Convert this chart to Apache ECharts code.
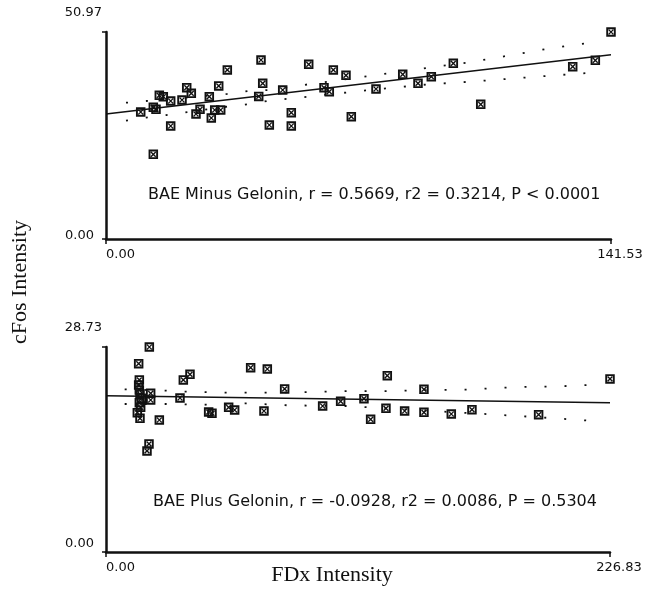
<!DOCTYPE html>
<html>
<head>
<meta charset="utf-8">
<script src="https://cdn.jsdelivr.net/npm/echarts@6/dist/echarts.min.js"></script>
<style>
html,body{margin:0;padding:0;background:#fff;}
#c{width:647px;height:605px;}
</style>
</head>
<body>
<div id="c"></div>
<script>
// ---- Top panel: BAE Minus Gelonin ----
const topXTicks = [0, 141.53];
const topYTicks = [0, 50.97];
const topXTickLabels = ['0.00', '141.53'];
const topYTickLabels = ['0.00', '50.97'];
const topX = [9.73, 13.26, 14.01, 14.94, 16.06, 18.13, 18.13, 13.26, 21.30, 22.62, 23.91, 25.22, 26.35, 28.95, 29.51, 30.47, 32.15, 31.59, 34.00, 42.80, 43.92, 43.44, 45.77, 49.52, 51.93, 51.93, 56.81, 61.10, 62.58, 63.71, 67.26, 68.75, 75.67, 83.16, 87.44, 91.17, 97.34, 105.02, 130.80, 137.14, 141.53];
const topY = [31.27, 32.43, 31.94, 35.38, 35.04, 33.98, 27.83, 20.86, 34.23, 37.26, 35.88, 30.78, 31.94, 35.04, 29.80, 31.77, 31.77, 37.68, 41.62, 35.10, 38.34, 44.08, 28.07, 36.69, 31.10, 27.83, 43.02, 37.26, 36.27, 41.62, 40.31, 30.12, 36.94, 40.56, 38.34, 39.97, 43.26, 33.17, 42.43, 44.00, 50.97];
const topFitX = [0, 141.53];
const topFitY = [30.78, 45.38];
const topUpX = [5.6, 11.2, 34.0, 39.9, 45.5, 56.7, 73.8, 90.4, 102.0, 113.2, 124.6, 136.0];
const topUpY = [33.56, 33.98, 35.71, 36.44, 36.69, 38.09, 40.14, 42.18, 43.51, 45.23, 46.96, 48.34];
const topLoX = [5.6, 11.2, 17.0, 34.0, 39.9, 45.5, 56.7, 73.8, 90.4, 102.0, 113.2, 124.6, 136.0];
const topLoY = [29.13, 29.87, 30.53, 32.58, 33.17, 34.05, 35.04, 36.69, 38.09, 38.73, 39.47, 40.21, 40.95];
const topNote = 'BAE Minus Gelonin, r = 0.5669, r2 = 0.3214, P < 0.0001';

// ---- Bottom panel: BAE Plus Gelonin ----
const botXTicks = [0, 226.83];
const botYTicks = [0, 28.73];
const botXTickLabels = ['0.00', '226.83'];
const botYTickLabels = ['0.00', '28.73'];
const botX = [14.7, 19.5, 15.0, 14.7, 15.0, 15.3, 15.9, 15.0, 15.6, 14.1, 15.3, 20.1, 20.1, 24.0, 18.45, 19.35, 34.8, 37.8, 33.3, 46.2, 47.7, 55.2, 57.9, 65.1, 72.6, 71.1, 80.4, 97.5, 105.6, 116.1, 119.1, 126.6, 126.0, 134.4, 143.1, 143.1, 155.4, 164.7, 194.7, 226.83];
const botY = [26.39, 28.73, 24.11, 23.41, 22.70, 22.14, 21.54, 20.93, 20.28, 19.53, 18.74, 22.24, 21.30, 18.50, 14.16, 15.14, 24.11, 24.90, 21.58, 19.62, 19.44, 20.28, 19.90, 25.83, 25.65, 19.76, 22.85, 20.46, 21.12, 21.49, 18.60, 24.71, 20.14, 19.76, 22.80, 19.58, 19.34, 19.94, 19.24, 24.25];
const botFitX = [0, 226.83];
const botFitY = [21.91, 20.93];
const botUpX = [8.4, 27.0, 36.3, 54.0, 72.6, 90.6, 108.6, 127.2, 145.2, 163.5, 172.8, 190.5, 199.8, 218.1];
const botUpY = [22.80, 22.61, 22.47, 22.33, 22.33, 22.42, 22.56, 22.56, 22.70, 22.75, 22.94, 23.17, 23.17, 23.41];
const botLoX = [8.4, 27.0, 44.7, 63.3, 81.6, 108.6, 118.2, 172.8, 190.8, 199.8, 218.1];
const botLoY = [20.74, 20.74, 20.64, 20.84, 20.56, 20.46, 20.28, 19.30, 18.96, 18.78, 18.40];
const botNote = 'BAE Plus Gelonin, r = -0.0928, r2 = 0.0086, P = 0.5304';

const yTitle = 'cFos Intensity';
const xTitle = 'FDx Intensity';

const zip = (a, b) => a.map((v, i) => [v, b[i]]);
const MARK = 'path://M0,0L10,0L10,10L0,10Z M2,2L2,8L8,8L8,2Z M2,3L3,2L8,7L7,8Z M7,2L8,3L3,8L2,7Z';
const INK = '#111';
const FONT = 'DejaVu Sans';

function xAxisFor(gi, ticks, labels) {
  return {
    gridIndex: gi, type: 'value', min: ticks[0], max: ticks[1], interval: ticks[1] - ticks[0],
    splitLine: {show: false},
    axisLine: {show: true, onZero: false, lineStyle: {color: INK, width: 2.5}},
    axisTick: {show: true, length: 5, lineStyle: {color: INK, width: 1.5}},
    axisLabel: {
      show: true, showMinLabel: true, showMaxLabel: true, margin: 9,
      alignMinLabel: 'left',
      color: INK, fontFamily: FONT, fontSize: 13,
      formatter: v => v === ticks[0] ? labels[0] : '{mx|' + labels[1] + '}',
      rich: {mx: {padding: [0, 0, 0, 18], fontFamily: FONT, fontSize: 13, color: INK}}
    }
  };
}
function yAxisFor(gi, ticks, labels, minLift) {
  return {
    gridIndex: gi, type: 'value', min: ticks[0], max: ticks[1], interval: ticks[1] - ticks[0],
    splitLine: {show: false},
    axisLine: {show: true, onZero: false, lineStyle: {color: INK, width: 2.5}},
    axisTick: {show: true, length: 4, lineStyle: {color: INK, width: 1.5}},
    axisLabel: {
      show: true, showMinLabel: true, showMaxLabel: true, margin: 4,
      color: INK, fontFamily: FONT, fontSize: 13,
      formatter: v => v === ticks[0] ? '{mn|' + labels[0] + '}' : '{mx|' + labels[1] + '}',
      rich: {
        mn: {padding: [0, 8, minLift, 0], fontFamily: FONT, fontSize: 13, color: INK},
        mx: {padding: [0, 0, 38, 0], fontFamily: FONT, fontSize: 13, color: INK}
      }
    }
  };
}
function scatter(gi, xs, ys) {
  return {type: 'scatter', xAxisIndex: gi, yAxisIndex: gi, data: zip(xs, ys),
    symbol: MARK, symbolSize: 9.5, itemStyle: {color: INK, opacity: 1}, silent: true, z: 5};
}
function fit(gi, xs, ys) {
  return {type: 'line', xAxisIndex: gi, yAxisIndex: gi, data: zip(xs, ys), showSymbol: false,
    lineStyle: {color: INK, width: 1.5}, silent: true, z: 4};
}
function band(gi, xs, ys) {
  return {type: 'line', xAxisIndex: gi, yAxisIndex: gi, data: zip(xs, ys), showSymbol: false,
    lineStyle: {color: INK, width: 1.8, type: [2, 18]}, silent: true, z: 3};
}

const chart = echarts.init(document.getElementById('c'), null, {renderer: 'canvas'});
chart.setOption({
  backgroundColor: '#fff',
  animation: false,
  grid: [
    {left: 106, right: 36, top: 32, height: 207},
    {left: 106, right: 37, top: 347, height: 205}
  ],
  xAxis: [xAxisFor(0, topXTicks, topXTickLabels), xAxisFor(1, botXTicks, botXTickLabels)],
  yAxis: [yAxisFor(0, topYTicks, topYTickLabels, 7), yAxisFor(1, botYTicks, botYTickLabels, 16)],
  series: [
    band(0, topUpX, topUpY), band(0, topLoX, topLoY), fit(0, topFitX, topFitY), scatter(0, topX, topY),
    band(1, botUpX, botUpY), band(1, botLoX, botLoY), fit(1, botFitX, botFitY), scatter(1, botX, botY)
  ],
  graphic: [
    {type: 'text', left: 148, top: 187, style: {text: topNote, font: '16px "DejaVu Sans"', fill: INK}},
    {type: 'text', left: 153, top: 494, style: {text: botNote, font: '16px "DejaVu Sans"', fill: INK}},
    {type: 'text', x: 20, y: 282, rotation: Math.PI / 2,
      style: {text: yTitle, font: '22px "Liberation Serif"', fill: INK, align: 'center', verticalAlign: 'middle'}},
    {type: 'text', x: 332, y: 575,
      style: {text: xTitle, font: '22px "Liberation Serif"', fill: INK, align: 'center', verticalAlign: 'middle'}}
  ]
});
</script>
</body>
</html>
